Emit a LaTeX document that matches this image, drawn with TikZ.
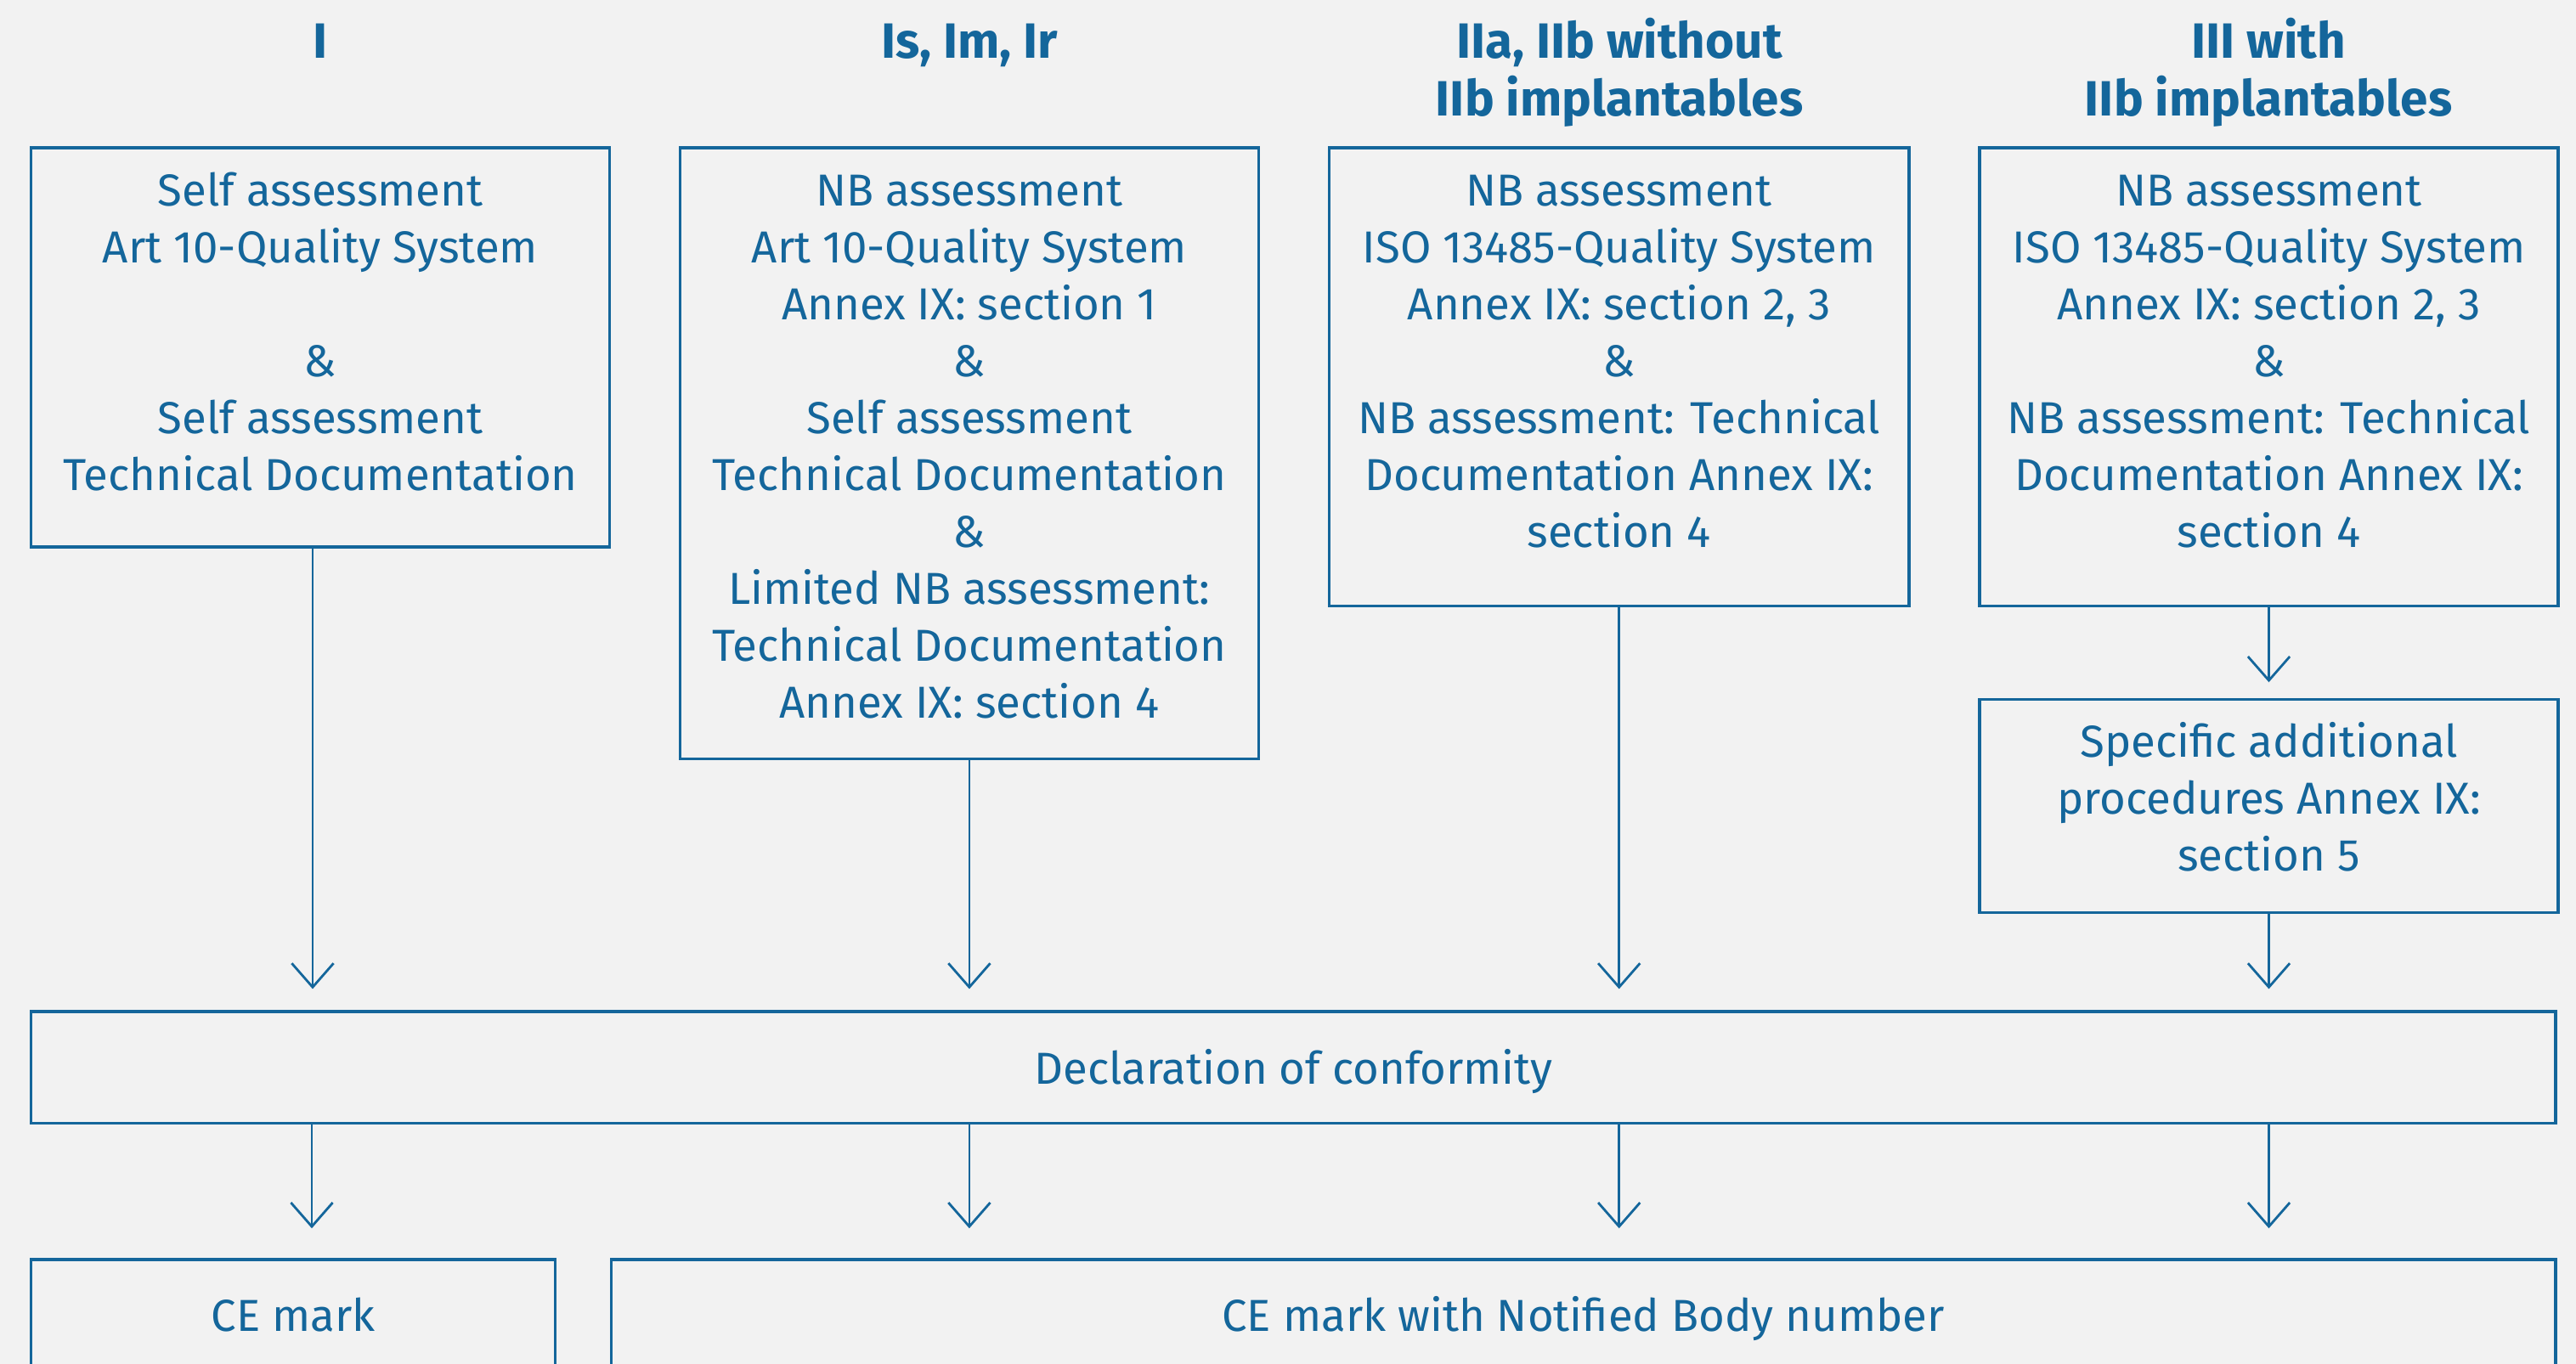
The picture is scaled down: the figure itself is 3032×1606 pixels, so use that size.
\documentclass[tikz,border=0pt]{standalone}
\usepackage{fontspec}
\setmainfont{Fira Sans}
\usetikzlibrary{arrows.meta,fit,calc}
\definecolor{nb}{HTML}{14669B}
\definecolor{bgc}{HTML}{F2F2F2}
\newcommand\ts{\rule{0pt}{14pt}}
\newcommand\hs{\rule{0pt}{15pt}}
\begin{document}
\begin{tikzpicture}[x=0.01cm,y=-0.01cm,
  box/.style={draw=nb,line width=0.9pt,inner sep=0pt,rectangle},
  txt/.style={text=nb,align=center,inner sep=0pt,font=\fontsize{15}{19.06}\selectfont},
  hdr/.style={text=nb,align=center,inner sep=0pt,font=\fontsize{16.6}{19.35}\selectfont\bfseries},
  arr/.style={draw=nb,line width=0.8pt,-{Straight Barb[length=8pt,width=14pt]}}]
\fill[bgc] (0,0) rectangle (3032,1606);
\useasboundingbox (0,0) rectangle (3032,1606);
% headers
\node[hdr,anchor=base] (h1) at (377,68) {I};
\node[hdr,anchor=base] (h2) at (1141,68) {Is, Im, Ir};
\node[hdr,anchor=north] (h3) at (1906,15.3) {\hs IIa, IIb without\\IIb implantables};
\node[hdr,anchor=north] (h4) at (2670,15.3) {\hs III with\\IIb implantables};
% boxes
\node[box,fit={(36.7,174) (717.4,644)}] (b1) {};
\node[box,fit={(800.6,174) (1481.2,893.4)}] (b2) {};
\node[box,fit={(1564.4,174) (2247,713.5)}] (b3) {};
\node[box,fit={(2330,174) (3011,713.5)}] (b4) {};
\node[box,fit={(2330,823.5) (3011,1074.5)}] (b5) {};
\node[box,fit={(36.7,1191) (3008,1322.5)}] (decl) {};
\node[box,fit={(36.7,1483) (653.6,1700)}] (ce1) {};
\node[box,fit={(719.3,1483) (3008,1700)}] (ce2) {};
% texts
\node[txt,anchor=north] (t1) at ($(b1.north)+(0,19.8)$) {\ts Self assessment\\Art 10-Quality System\\ \\\&\\Self assessment\\Technical Documentation};
\node[txt,anchor=north] (t2) at ($(b2.north)+(0,19.8)$) {\ts NB assessment\\Art 10-Quality System\\Annex IX: section 1\\\&\\Self assessment\\Technical Documentation\\\&\\Limited NB assessment:\\Technical Documentation\\Annex IX: section 4};
\node[txt,anchor=north] (t3) at ($(b3.north)+(0,19.8)$) {\ts NB assessment\\ISO 13485-Quality System\\Annex IX: section 2, 3\\\&\\NB assessment: Technical\\Documentation Annex IX:\\section 4};
\node[txt,anchor=north] (t4) at ($(b4.north)+(0,19.8)$) {\ts NB assessment\\ISO 13485-Quality System\\Annex IX: section 2, 3\\\&\\NB assessment: Technical\\Documentation Annex IX:\\section 4};
\node[txt,anchor=north] (t5) at ($(b5.north)+(0,19.8)$) {\ts Specific additional\\procedures Annex IX:\\section 5};
\node[txt,anchor=base] (td) at ($(decl.north)+(0,87)$) {Declaration of conformity};
\node[txt,anchor=base] (tc1) at ($(ce1.north)+(0,86)$) {CE mark};
\node[txt,anchor=base] (tc2) at ($(ce2.north)+(0,86)$) {CE mark with Notified Body number};
% connectors
\coordinate (c1) at (368,0);
\coordinate (d1) at (367,0);
\draw[arr,shorten >=7.1pt] (b1.south -| c1) -- (decl.north -| c1);
\draw[arr,shorten >=7.1pt] (b2.south) -- (b2.south |- decl.north);
\draw[arr,shorten >=7.1pt] (b3.south) -- (b3.south |- decl.north);
\draw[arr,shorten >=5.3pt] (b4.south) -- (b5.north);
\draw[arr,shorten >=7.1pt] (b5.south) -- (b5.south |- decl.north);
\draw[arr,shorten >=10pt] (decl.south -| d1) -- (ce1.north -| d1);
\draw[arr,shorten >=10pt] (decl.south -| b2.south) -- (ce2.north -| b2.south);
\draw[arr,shorten >=10pt] (decl.south -| b3.south) -- (ce2.north -| b3.south);
\draw[arr,shorten >=10pt] (decl.south -| b4.south) -- (ce2.north -| b4.south);
\end{tikzpicture}
\end{document}
